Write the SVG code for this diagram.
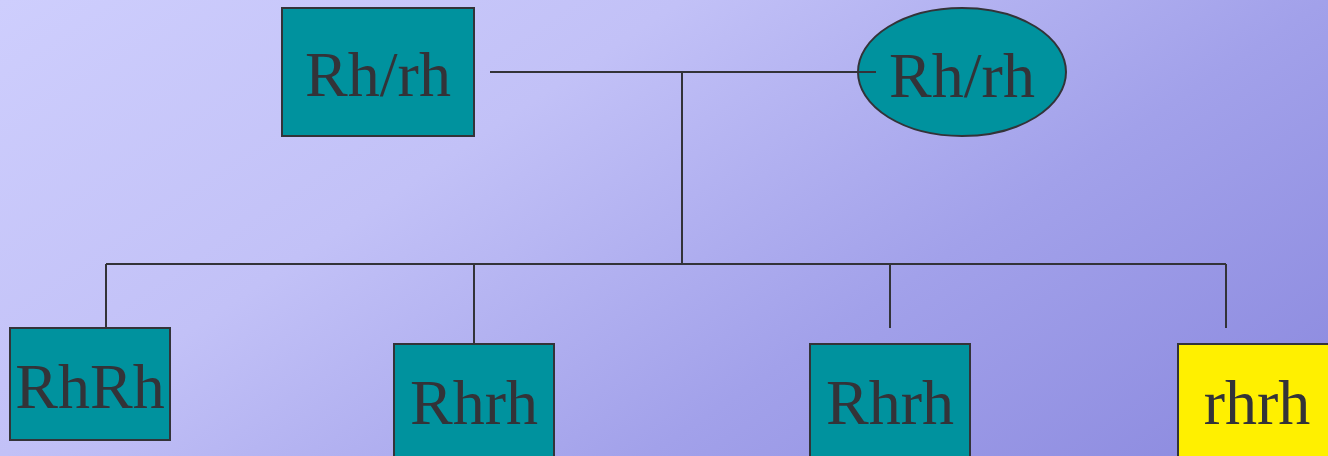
<svg xmlns="http://www.w3.org/2000/svg" width="1328" height="456" viewBox="0 0 1328 456">
<defs>
<linearGradient id="bg" x1="0" y1="0" x2="623" y2="929" gradientUnits="userSpaceOnUse">
<stop offset="0" stop-color="#CECEFD"/>
<stop offset="0.34" stop-color="#C2C1F7"/>
<stop offset="0.66" stop-color="#A2A1EA"/>
<stop offset="1" stop-color="#8A88DE"/>
</linearGradient>
<style>
.box{fill:#00929E;stroke:#333338;stroke-width:2}
.yel{fill:#FFF000;stroke:#333338;stroke-width:2}
.t{font-family:"Liberation Serif","Times New Roman",serif;font-size:64px;fill:#333338;text-anchor:middle}
.c{stroke:#333338;stroke-width:2;fill:none}
</style>
</defs>
<rect width="1328" height="456" fill="url(#bg)"/>
<g id="parent1">
<rect class="box" x="282" y="8" width="192" height="128"/>
<text class="t" x="378" y="96">Rh/rh</text>
</g>
<g id="parent2">
<ellipse class="box" cx="962" cy="72" rx="104" ry="64"/>
<text class="t" x="962" y="97">Rh/rh</text>
</g>
<g id="child1">
<rect class="box" x="10" y="328" width="160" height="112"/>
<text class="t" x="90" y="408">RhRh</text>
</g>
<g id="child2">
<rect class="box" x="394" y="344" width="160" height="120"/>
<text class="t" x="474" y="424">Rhrh</text>
</g>
<g id="child3">
<rect class="box" x="810" y="344" width="160" height="120"/>
<text class="t" x="890" y="424">Rhrh</text>
</g>
<g id="child4">
<rect class="yel" x="1178" y="344" width="160" height="120"/>
<text class="t" x="1257" y="424">rhrh</text>
</g>
<g id="connectors">
<path class="c" d="M490 72H876M682 72V264M106 264H1226M106 264V328M474 264V344M890 264V328M1226 264V328"/>
</g>
</svg>
